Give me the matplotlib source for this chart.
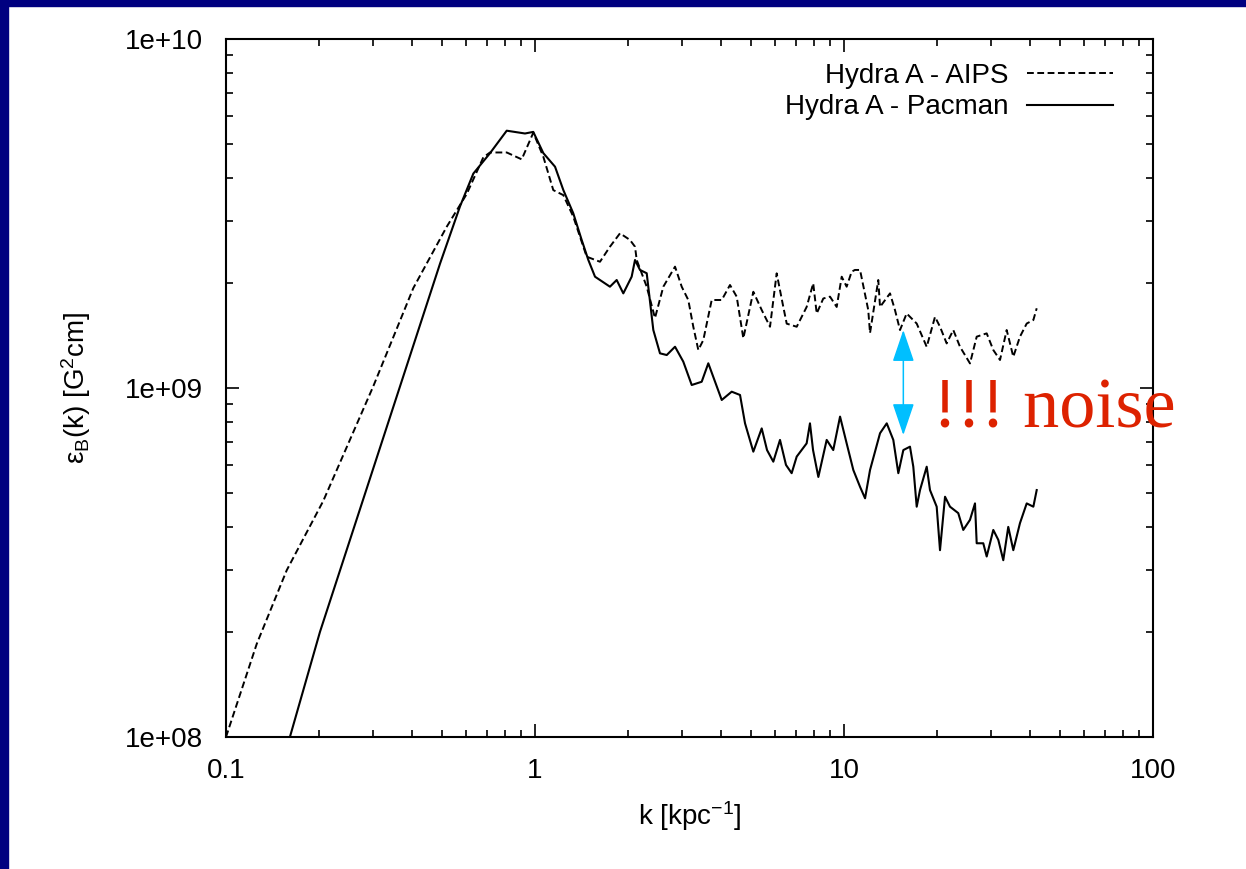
import matplotlib
matplotlib.use('Agg')
import matplotlib.pyplot as plt
from matplotlib.ticker import NullFormatter

# 字体设置
plt.rcParams['font.family'] = ['Liberation Sans', 'DejaVu Sans']
plt.rcParams['mathtext.default'] = 'regular'

# 数据：k [kpc^-1] 与 epsilon_B(k) [1e9 G^2 cm]
k_aips = [0.100, 0.1257, 0.1572, 0.2065, 0.2996, 0.4038, 0.5178, 0.6012, 0.6804, 0.7151,
          0.8100, 0.9057, 0.9874, 1.064, 1.146, 1.235, 1.330, 1.470, 1.623, 1.748,
          1.884, 2.029, 2.107, 2.134, 2.299, 2.445, 2.602, 2.839, 2.984, 3.134,
          3.253, 3.377, 3.505, 3.731, 4.021, 4.276, 4.495, 4.723, 5.088, 5.416,
          5.762, 6.055, 6.362, 6.525, 7.03, 7.57, 7.95, 8.16, 8.57, 9.01,
          9.47, 9.83, 10.2, 10.59, 10.85, 11.27, 11.98, 12.14, 12.91, 13.08,
          14.09, 14.62, 15.18, 15.95, 17.19, 18.52, 19.70, 20.45, 21.49, 22.58,
          23.73, 25.57, 26.88, 28.96, 30.42, 31.98, 33.61, 35.31, 37.11, 39.02,
          41.0, 42.04]
e_aips = [0.100, 0.1847, 0.3004, 0.475, 1.011, 1.933, 2.896, 3.597, 4.581, 4.73,
          4.73, 4.52, 5.39, 4.60, 3.69, 3.57, 3.097, 2.378, 2.30, 2.54,
          2.775, 2.656, 2.54, 2.327, 1.951, 1.587, 1.951, 2.227, 1.951, 1.787,
          1.498, 1.285, 1.372, 1.787, 1.787, 1.973, 1.827, 1.388, 1.887, 1.673,
          1.498, 2.131, 1.707, 1.529, 1.498, 1.707, 1.995, 1.635, 1.805, 1.827,
          1.707, 2.084, 1.951, 2.155, 2.179, 2.179, 1.673, 1.437, 2.039, 1.707,
          1.867, 1.673, 1.466, 1.635, 1.530, 1.312, 1.599, 1.498, 1.342, 1.466,
          1.313, 1.176, 1.403, 1.434, 1.285, 1.203, 1.466, 1.229, 1.403, 1.530,
          1.566, 1.692]

k_pacman = [0.161, 0.2014, 0.2853, 0.3845, 0.4928, 0.5720, 0.6316, 0.7151, 0.8100, 0.9281,
            0.9873, 1.064, 1.161, 1.235, 1.330, 1.416, 1.488, 1.564, 1.748, 1.838,
            1.931, 2.055, 2.107, 2.187, 2.299, 2.415, 2.538, 2.669, 2.839, 3.019,
            3.215, 3.463, 3.638, 4.021, 4.331, 4.608, 4.783, 5.088, 5.416, 5.635,
            5.905, 6.207, 6.49, 6.77, 7.03, 7.57, 7.76, 7.94, 8.26, 8.79,
            9.23, 9.71, 10.2, 10.72, 11.27, 11.70, 12.14, 13.08, 13.75, 14.44,
            14.99, 15.56, 16.35, 16.76, 17.19, 17.62, 18.52, 18.98, 19.95, 20.45,
            21.23, 22.03, 23.43, 24.32, 25.57, 26.54, 26.88, 28.23, 28.96, 30.42,
            31.58, 32.77, 34.01, 35.31, 37.11, 39.02, 41.0, 42.04]
e_pacman = [0.100, 0.200, 0.515, 1.158, 2.272, 3.316, 4.115, 4.708, 5.461, 5.361,
            5.418, 4.71, 4.306, 3.692, 3.167, 2.656, 2.327, 2.084, 1.951, 2.039,
            1.867, 2.084, 2.327, 2.179, 2.132, 1.466, 1.257, 1.243, 1.313, 1.19,
            1.02, 1.042, 1.177, 0.924, 0.976, 0.955, 0.792, 0.657, 0.766, 0.664,
            0.615, 0.710, 0.602, 0.570, 0.636, 0.694, 0.792, 0.664, 0.556, 0.710,
            0.664, 0.828, 0.694, 0.582, 0.521, 0.483, 0.582, 0.742, 0.792, 0.710,
            0.570, 0.664, 0.679, 0.595, 0.457, 0.510, 0.595, 0.510, 0.457, 0.343,
            0.488, 0.457, 0.438, 0.392, 0.419, 0.467, 0.359, 0.359, 0.329, 0.392,
            0.367, 0.321, 0.400, 0.343, 0.410, 0.467, 0.457, 0.510]

x_ticks = [0.1, 1, 10, 100]
x_tick_labels = ['0.1', '1', '10', '100']
y_ticks = [1e8, 1e9, 1e10]
y_tick_labels = ['1e+08', '1e+09', '1e+10']

# 箭头标注的位置 (k, 上端, 下端)
noise_k = 15.56
noise_top = 1.466e9
noise_bottom = 7.33e8

fig = plt.figure(figsize=(12.46, 8.69), dpi=100)
ax = fig.add_axes([226 / 1246, 1 - 737 / 869, 927 / 1246, 698 / 869])

# 画两条曲线
ax.plot(k_aips, [v * 1e9 for v in e_aips], color='black', lw=1.4,
        linestyle=(0, (3.5, 1.8)), label='Hydra A - AIPS')
ax.plot(k_pacman, [v * 1e9 for v in e_pacman], color='black', lw=1.5,
        label='Hydra A - Pacman')

ax.set_xscale('log')
ax.set_yscale('log')
ax.set_xlim(0.1, 100)
ax.set_ylim(1e8, 1e10)
ax.set_xticks(x_ticks, labels=x_tick_labels)
ax.set_yticks(y_ticks, labels=y_tick_labels)
ax.xaxis.set_minor_formatter(NullFormatter())
ax.yaxis.set_minor_formatter(NullFormatter())

# 刻度朝内，四边都有
ax.tick_params(which='both', direction='in', top=True, right=True, width=1.2)
ax.tick_params(which='major', length=9.5, labelsize=20)
ax.tick_params(which='minor', length=5)
ax.tick_params(axis='x', which='major', pad=15)
ax.tick_params(axis='y', which='major', pad=16.5)
for s in ax.spines.values():
    s.set_linewidth(1.5)

ax.set_xlabel('k [kpc$^{-1}$]', fontsize=20, labelpad=11)
ax.set_ylabel('ε$_B$(k) [G$^2$cm]', fontsize=20, labelpad=23)

# 图例
ax.legend(loc='upper right', bbox_to_anchor=(0.957, 0.966), frameon=False,
          markerfirst=False, fontsize=20, handlelength=3.1, handletextpad=0.68,
          borderpad=0, borderaxespad=0, labelspacing=0.2)

# 噪声标注
ax.annotate('', xy=(noise_k, noise_top), xytext=(noise_k, noise_bottom),
            arrowprops=dict(arrowstyle='<|-|>,head_length=2.0,head_width=0.68',
                            color='#00bfff', lw=1.1, shrinkA=0, shrinkB=0))
ax.text(0.7627, 0.4441, '!!! noise', transform=ax.transAxes,
        fontfamily='Liberation Serif', fontsize=52, color='#dd2200', va='baseline')

# 深蓝色边框（左、上）
fig.add_artist(plt.Rectangle((0, 0), 8 / 1246, 1, transform=fig.transFigure,
                             color='#000080', zorder=10))
fig.add_artist(plt.Rectangle((0, 1 - 6 / 869), 1, 6 / 869, transform=fig.transFigure,
                             color='#000080', zorder=10))

fig.savefig('out.png', dpi=100)
